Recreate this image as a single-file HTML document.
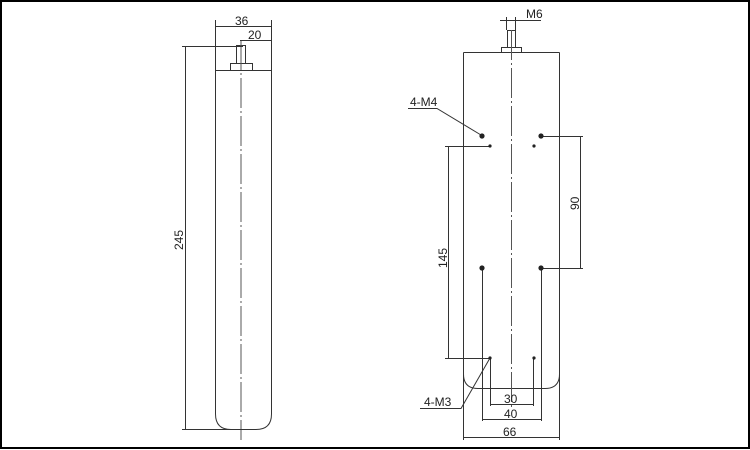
<!DOCTYPE html>
<html><head><style>
html,body{margin:0;padding:0;background:#fff}
svg{display:block}
text{font-family:"Liberation Sans",sans-serif;fill:#222}
</style></head><body>
<svg width="750" height="450" viewBox="0 0 750 450" xmlns="http://www.w3.org/2000/svg">
<rect x="1" y="1" width="748" height="447" fill="#fff" stroke="#000" stroke-width="2"/>
<g stroke="#333" stroke-width="1" fill="none">
<!-- LEFT VIEW -->
<path d="M215.5 20 V414 Q215.5 429.5 231 429.5 H256 Q271.5 429.5 271.5 414 V20"/>
<line x1="215.5" y1="70.5" x2="271.5" y2="70.5"/>
<rect x="230.5" y="63.5" width="22" height="7"/>
<rect x="236.5" y="45.5" width="9" height="18"/>
<line x1="241" y1="40" x2="241" y2="440" stroke-dasharray="30 3 2 3" stroke="#555"/>
<line x1="215.5" y1="26.5" x2="271.5" y2="26.5"/>
<line x1="240" y1="40.5" x2="271.5" y2="40.5"/>
<line x1="185.5" y1="46.5" x2="185.5" y2="429.5"/>
<line x1="182" y1="46.5" x2="243" y2="46.5"/>
<line x1="182" y1="429.5" x2="245" y2="429.5"/>
<!-- RIGHT VIEW -->
<line x1="463.5" y1="52.5" x2="463.5" y2="440"/>
<line x1="559.5" y1="52.5" x2="559.5" y2="440"/>
<line x1="463.5" y1="52.5" x2="559.5" y2="52.5"/>
<path d="M463.5 374 Q463.5 388.5 478 388.5 H545 Q559.5 388.5 559.5 374"/>
<rect x="501.5" y="47.5" width="20" height="5"/>
<rect x="507.5" y="30.5" width="8" height="17"/>
<line x1="506.5" y1="17" x2="506.5" y2="30"/>
<line x1="515.5" y1="17" x2="515.5" y2="30"/>
<line x1="500" y1="20.5" x2="541" y2="20.5"/>
<line x1="511.5" y1="30" x2="511.5" y2="410" stroke-dasharray="30 3 2 3" stroke="#555"/>
<!-- 145 -->
<line x1="445" y1="146.5" x2="490" y2="146.5"/>
<line x1="445" y1="358.5" x2="490" y2="358.5"/>
<line x1="448.5" y1="146.5" x2="448.5" y2="358.5"/>
<!-- 90 -->
<line x1="541" y1="136.5" x2="583" y2="136.5"/>
<line x1="541" y1="268.5" x2="583" y2="268.5"/>
<line x1="580.5" y1="136.5" x2="580.5" y2="268.5"/>
<!-- ext down -->
<line x1="482.5" y1="268" x2="482.5" y2="421"/>
<line x1="541.5" y1="268" x2="541.5" y2="421"/>
<line x1="490.5" y1="358" x2="490.5" y2="406"/>
<line x1="533.5" y1="358" x2="533.5" y2="406"/>
<line x1="490.5" y1="404.5" x2="533.5" y2="404.5"/>
<line x1="482.5" y1="419.5" x2="541.5" y2="419.5"/>
<line x1="463.5" y1="437.5" x2="559.5" y2="437.5"/>
<!-- leaders -->
<polyline points="408,108.5 437,108.5 481,135"/>
<polyline points="420,408.5 461,408.5 490,358"/>
</g>
<g fill="#222">
<circle cx="482" cy="136" r="2.6"/><circle cx="541" cy="136" r="2.6"/>
<circle cx="482" cy="268" r="2.6"/><circle cx="541" cy="268" r="2.6"/>
<circle cx="490" cy="146" r="1.6"/><circle cx="534" cy="146" r="1.6"/>
<circle cx="490" cy="358" r="1.6"/><circle cx="534" cy="358" r="1.6"/>
</g>
<g font-size="12">
<text x="235" y="25">36</text>
<text x="248" y="39">20</text>
<text x="0" y="0" transform="translate(183,250) rotate(-90)">245</text>
<text x="526" y="18">M6</text>
<text x="410" y="106">4-M4</text>
<text x="424" y="406">4-M3</text>
<text x="0" y="0" transform="translate(447,268) rotate(-90)">145</text>
<text x="0" y="0" transform="translate(579,210) rotate(-90)">90</text>
<text x="504" y="403">30</text>
<text x="504" y="418">40</text>
<text x="503" y="436">66</text>
</g>
</svg>
</body></html>
